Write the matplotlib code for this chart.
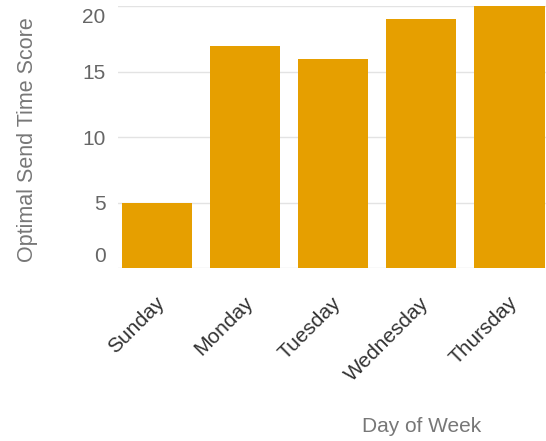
import matplotlib
matplotlib.use("Agg")
import matplotlib.pyplot as plt
import matplotlib.transforms as mtransforms

days = ["Sunday", "Monday", "Tuesday", "Wednesday", "Thursday"]
scores = [5, 17, 16, 19, 20]
yticks = [0, 5, 10, 15, 20]

plt.rcParams["font.family"] = ["Liberation Sans", "DejaVu Sans"]

fig = plt.figure(figsize=(5.46, 4.41), dpi=100)
ax = fig.add_axes([118 / 546, 173 / 441, 1 - 118 / 546, 261.6 / 441])

x = range(len(days))
ax.bar(x, scores, width=0.8, color="#E69F00", zorder=2)

ax.set_xlim(-0.442, 4.416)
ax.set_ylim(0, 20)
ax.set_yticks(yticks)
ax.set_xticks(list(x))
ax.set_xticklabels(days, rotation=45, ha="right", va="center",
                   rotation_mode="anchor", fontsize=15, color="#333333")
ax.tick_params(axis="x", length=0, pad=23)
ax.tick_params(axis="y", length=0, pad=9, labelsize=15, labelcolor="#666666")

# nudge the slanted day labels a little to the right
shift = mtransforms.ScaledTranslation(5 / 100, 0, fig.dpi_scale_trans)
for lbl in ax.get_xticklabels():
    lbl.set_transform(lbl.get_transform() + shift)

# keep the end labels flush inside the value range
ylabels = ax.get_yticklabels()
ylabels[0].set_va("bottom")
ylabels[-1].set_va("top")
up = mtransforms.ScaledTranslation(0, 2 / 100, fig.dpi_scale_trans)
ylabels[0].set_transform(ylabels[0].get_transform() + up)
down = mtransforms.ScaledTranslation(0, -2 / 100, fig.dpi_scale_trans)
ylabels[-1].set_transform(ylabels[-1].get_transform() + down)

ax.grid(axis="y", color="#e3e3e3", linewidth=1, zorder=0)
for s in ax.spines.values():
    s.set_visible(False)

ax.set_ylabel("Optimal Send Time Score", fontsize=15.5, color="#777777")
ax.yaxis.set_label_coords(-(118 - 38) / 428, 0.49)
fig.text(422 / 546, 1 - 427 / 441, "Day of Week", fontsize=15,
         color="#777777", ha="center", va="center")

fig.savefig("out.png", dpi=100)
